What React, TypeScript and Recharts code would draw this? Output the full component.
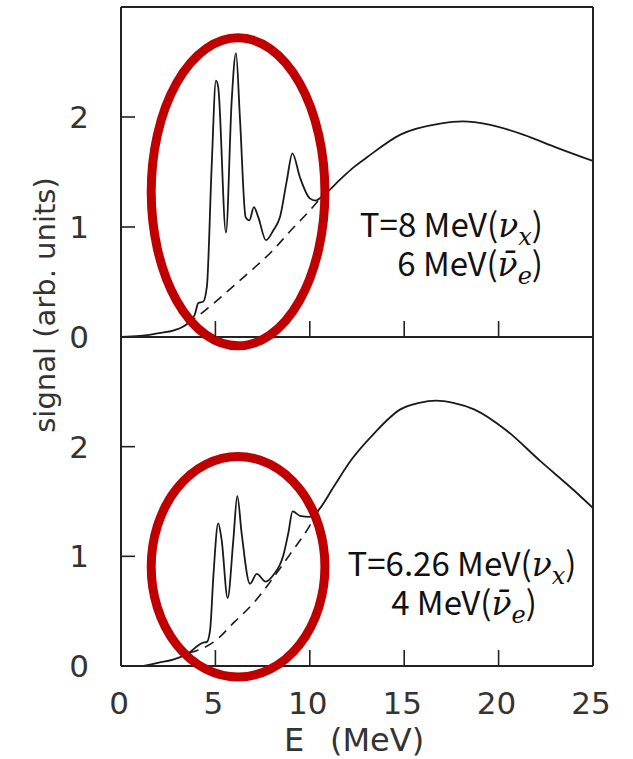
import React from "react";
import { LineChart, Line, XAxis, YAxis, ReferenceArea } from "recharts";

// upper panel, T = 8 MeV (nu_x) / 6 MeV (anti nu_e)
const topSolidE = [0, 1, 1.5, 2, 2.8, 3.5, 3.9, 4.1, 4.35, 4.55, 4.8, 5.03, 5.15, 5.56, 5.86, 6.09, 6.3, 6.6, 6.8, 7.04, 7.27, 7.68, 8.07, 8.42, 8.78, 9.08, 9.48, 10.0, 10.3, 10.6, 11.6, 12.3, 13.0, 14.8, 16.9, 18.1, 19.5, 21.3, 23.1, 25];
const topSolidY = [0, 0.01, 0.02, 0.035, 0.06, 0.12, 0.2, 0.31, 0.32, 0.46, 1.54, 2.33, 2.27, 0.95, 2.14, 2.58, 1.99, 1.09, 1.06, 1.18, 1.09, 0.88, 0.97, 1.09, 1.42, 1.67, 1.45, 1.26, 1.24, 1.27, 1.43, 1.54, 1.63, 1.84, 1.94, 1.96, 1.93, 1.84, 1.72, 1.6];
const topDashE = [3.5, 4, 5, 6, 7, 8, 9, 10, 10.6];
const topDashY = [0.12, 0.18, 0.32, 0.47, 0.62, 0.78, 0.97, 1.15, 1.27];

// lower panel, T = 6.26 MeV (nu_x) / 4 MeV (anti nu_e)
const botSolidE = [1.2, 2, 2.8, 3.6, 4.1, 4.3, 4.55, 4.72, 4.9, 5.15, 5.33, 5.65, 5.95, 6.16, 6.39, 6.83, 7.19, 7.66, 8.07, 8.6, 8.86, 9.09, 9.48, 10.0, 10.45, 11.25, 12.2, 13.4, 14.8, 15.8, 16.7, 17.6, 18.7, 20.4, 22.2, 24.0, 25];
const botSolidY = [0, 0.03, 0.06, 0.12, 0.19, 0.21, 0.22, 0.33, 0.84, 1.3, 1.15, 0.62, 1.15, 1.55, 1.21, 0.75, 0.84, 0.77, 0.83, 1.01, 1.21, 1.41, 1.37, 1.36, 1.42, 1.63, 1.88, 2.12, 2.34, 2.4, 2.42, 2.4, 2.34, 2.15, 1.87, 1.6, 1.44];
const botDashE = [3.6, 4, 5, 6, 7, 8, 9, 10, 10.45];
const botDashY = [0.12, 0.14, 0.23, 0.4, 0.57, 0.79, 1.03, 1.28, 1.42];

const xTicks = [0, 5, 10, 15, 20, 25];
const xInnerTicks = [5, 10, 15, 20];
const yTicks = [0, 1, 2];

// red circles drawn around the line features (data units)
const topRing = { x1: 1.6, x2: 10.8, y1: -0.08, y2: 2.72 };
const botRing = { x1: 1.6, x2: 10.8, y1: -0.1, y2: 1.91 };

const zip = (es: number[], ys: number[]) => es.map((E, i) => ({ E, y: ys[i] }));

const INK = "#1a1a1a";
const AXIS = "#222";
const LABEL = "#333";
const TICK_FONT = "'DejaVu Sans', 'Liberation Sans', sans-serif";
const NOTE_FONT = "'Noto Sans CJK JP', 'Noto Sans', sans-serif";
const GREEK_FONT = "'DejaVu Serif', serif";

const xTick = (dir: 1 | -1, labels: boolean) => (p: any) => {
  const { x, y, payload } = p;
  const v = payload.value;
  return (
    <g>
      {v > 0 && v < 25 && <line x1={x} y1={y} x2={x} y2={y + dir * 16} stroke={AXIS} strokeWidth={1.6} />}
      {labels && (
        <text x={x - 2} y={y + 48} textAnchor="middle" fontFamily={TICK_FONT} fontSize={31} fill={LABEL}>
          {v}
        </text>
      )}
    </g>
  );
};

const yTickLeft = (p: any) => {
  const { x, y, payload } = p;
  return (
    <g>
      {payload.value > 0 && <line x1={x} y1={y} x2={x + 14} y2={y} stroke={AXIS} strokeWidth={1.6} />}
      <text x={x - 32} y={y + 11} textAnchor="end" fontFamily={TICK_FONT} fontSize={31} fill={LABEL}>
        {payload.value}
      </text>
    </g>
  );
};

const yTickRight = (p: any) => {
  const { x, y, payload } = p;
  if (payload.value <= 0) return <g />;
  return <line x1={x} y1={y} x2={x - 16} y2={y} stroke={AXIS} strokeWidth={1.6} />;
};

const ring = (p: any) => {
  const { x, y, width, height } = p;
  return (
    <ellipse cx={x + width / 2} cy={y + height / 2} rx={width / 2} ry={height / 2} fill="none" stroke="#C00000" strokeWidth={9} />
  );
};

const Panel = ({ solid, dash, box, bottom, top, height, margin }: any) => (
  <div style={{ position: "absolute", left: 0, top }}>
    <LineChart width={633} height={height} margin={margin}>
      <XAxis xAxisId="b" dataKey="E" type="number" domain={[0, 25]} ticks={bottom ? xTicks : xInnerTicks} interval={0}
        height={1} tickSize={0} tickMargin={0} tickLine={false} axisLine={{ stroke: AXIS, strokeWidth: 2 }}
        tick={xTick(-1, bottom)} allowDataOverflow />
      {!bottom && (
        <XAxis xAxisId="t" orientation="top" dataKey="E" type="number" domain={[0, 25]} ticks={xInnerTicks} interval={0}
          height={1} tickSize={0} tickMargin={0} tickLine={false} axisLine={{ stroke: AXIS, strokeWidth: 2 }}
          tick={xTick(1, false)} />
      )}
      <YAxis yAxisId="l" type="number" domain={[0, 3]} ticks={yTicks} interval={0} width={1} tickSize={0} tickMargin={0}
        tickLine={false} axisLine={{ stroke: AXIS, strokeWidth: 2 }} tick={yTickLeft} allowDataOverflow />
      <YAxis yAxisId="r" orientation="right" type="number" domain={[0, 3]} ticks={yTicks} interval={0} width={1} tickSize={0}
        tickMargin={0} tickLine={false} axisLine={{ stroke: AXIS, strokeWidth: 2 }} tick={yTickRight} />
      <Line xAxisId="b" yAxisId="l" data={dash} dataKey="y" type="monotone" stroke={INK} strokeWidth={1.6}
        strokeDasharray="10 7" dot={false} isAnimationActive={false} />
      <Line xAxisId="b" yAxisId="l" data={solid} dataKey="y" type="monotone" stroke={INK} strokeWidth={1.8}
        dot={false} isAnimationActive={false} />
      <ReferenceArea xAxisId="b" yAxisId="l" x1={box.x1} x2={box.x2} y1={box.y1} y2={box.y2} ifOverflow="visible"
        shape={ring} zIndex={1000} />
    </LineChart>
  </div>
);

const Nu = ({ sub, bar }: { sub: string; bar?: boolean }) => (
  <>
    <tspan fontFamily={GREEK_FONT} fontStyle="italic">{bar ? "ν\u0304" : "ν"}</tspan>
    <tspan fontFamily={GREEK_FONT} fontStyle="italic" fontSize={24} dy={8}>{sub}</tspan>
    <tspan dy={-8}>)</tspan>
  </>
);

export default function App() {
  return (
    <div style={{ position: "absolute", left: 0, top: 0, width: 633, height: 759, background: "#fff", overflow: "hidden" }}>
      <Panel solid={zip(topSolidE, topSolidY)} dash={zip(topDashE, topDashY)} box={topRing} bottom={false}
        top={0} height={360} margin={{ top: 6, right: 39, bottom: 22, left: 120 }} />
      <Panel solid={zip(botSolidE, botSolidY)} dash={zip(botDashE, botDashY)} box={botRing} bottom={true}
        top={330} height={429} margin={{ top: 7, right: 39, bottom: 92, left: 120 }} />
      <svg width={633} height={759} style={{ position: "absolute", left: 0, top: 0, pointerEvents: "none" }}>
        <text transform="translate(55,305) rotate(-90)" textAnchor="middle" fontFamily={TICK_FONT} fontSize={29} fill={LABEL}>
          signal  (arb. units)
        </text>
        <text x={284} y={751} fontFamily={TICK_FONT} fontSize={32} fill={LABEL}>
          E<tspan x={330}>(MeV)</tspan>
        </text>
        <text x={543} y={237} textAnchor="end" fontFamily={NOTE_FONT} fontSize={33} fill="#111">
          T=8 MeV(<Nu sub="x" />
        </text>
        <text x={543} y={276} textAnchor="end" fontFamily={NOTE_FONT} fontSize={33} fill="#111">
          6 MeV(<Nu sub="e" bar />
        </text>
        <text x={462} y={576} textAnchor="middle" fontFamily={NOTE_FONT} fontSize={33} fill="#111">
          T=6.26 MeV(<Nu sub="x" />
        </text>
        <text x={464} y={615} textAnchor="middle" fontFamily={NOTE_FONT} fontSize={33} fill="#111">
          4 MeV(<Nu sub="e" bar />
        </text>
      </svg>
    </div>
  );
}
